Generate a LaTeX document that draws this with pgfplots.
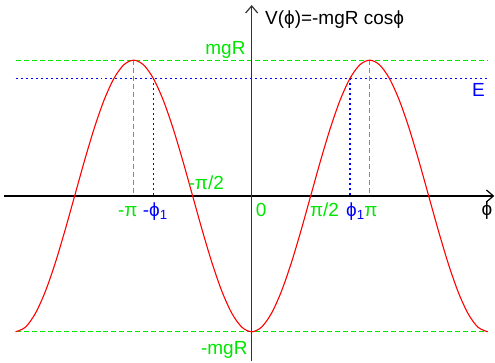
\documentclass[border=0pt]{standalone}
\usepackage{pgfplots}
\pgfplotsset{compat=1.18}
\usepackage{pgfplotstable}
\usepackage{fontspec}
\setmainfont{Liberation Sans}
\usetikzlibrary{arrows.meta}

\definecolor{lgreen}{RGB}{0,230,0}
\definecolor{lblue}{RGB}{0,0,255}
\definecolor{lred}{RGB}{255,0,0}

% V(phi) = -mgR cos(phi), in units of mgR, phi in radians
\pgfplotstableread{
phi      V
-6.2832 -1.0000
-6.0214 -0.9659
-5.7596 -0.8660
-5.4978 -0.7071
-5.2360 -0.5000
-4.9742 -0.2588
-4.7124  0.0000
-4.4506  0.2588
-4.1888  0.5000
-3.9270  0.7071
-3.6652  0.8660
-3.4034  0.9659
-3.1416  1.0000
-2.8798  0.9659
-2.6180  0.8660
-2.3562  0.7071
-2.0944  0.5000
-1.8326  0.2588
-1.5708  0.0000
-1.3090 -0.2588
-1.0472 -0.5000
-0.7854 -0.7071
-0.5236 -0.8660
-0.2618 -0.9659
 0.0000 -1.0000
 0.2618 -0.9659
 0.5236 -0.8660
 0.7854 -0.7071
 1.0472 -0.5000
 1.3090 -0.2588
 1.5708  0.0000
 1.8326  0.2588
 2.0944  0.5000
 2.3562  0.7071
 2.6180  0.8660
 2.8798  0.9659
 3.1416  1.0000
 3.4034  0.9659
 3.6652  0.8660
 3.9270  0.7071
 4.1888  0.5000
 4.4506  0.2588
 4.7124  0.0000
 4.9742 -0.2588
 5.2360 -0.5000
 5.4978 -0.7071
 5.7596 -0.8660
 6.0214 -0.9659
 6.2832 -1.0000
}\potential

\begin{document}
\begin{tikzpicture}[font=\fontsize{19bp}{22bp}\selectfont]
\begin{axis}[
  x=37.62bp, y=136bp,
  xmin=-6.699, xmax=6.459,
  ymin=-1.218, ymax=1.443,
  hide axis, clip=false,
  unbounded coords=jump,
]
  % page frame
  \path (axis cs:-6.699,-1.218) rectangle (axis cs:6.459,1.443);

  % green dashed levels mgR, -mgR and verticals at +-pi
  \addplot[draw=lgreen, line width=1.3bp, dash pattern=on 5bp off 3bp]
    coordinates {(-6.2832,1) (6.2832,1) (nan,nan)
                 (-6.2832,-1) (6.2832,-1) (nan,nan)
                 (-3.1416,1) (-3.1416,0) (nan,nan)
                 (3.1416,1) (3.1416,0)};

  % energy level E and turning points +-phi_1
  \addplot[draw=lblue, line width=1.1bp, dash pattern=on 2bp off 3bp]
    coordinates {(-6.2832,0.866) (6.2832,0.866) (nan,nan)
                 (-2.618,0.866) (-2.618,0) (nan,nan)
                 (2.618,0.866) (2.618,0)};

  % coordinate axes
  \draw[black, line width=1.2bp, -{Straight Barb[length=7bp,width=12bp,line width=1.2bp]}]
    (axis cs:-6.592,0) -- (axis cs:6.459,0);
  \draw[black!80, line width=1.3bp, -{Straight Barb[length=7bp,width=12bp,line width=1.2bp]}]
    (axis cs:0,-1.218) -- (axis cs:0,1.406);

  % potential curve
  \addplot[draw=lred, line width=1.1bp, smooth] table[x=phi, y=V] {\potential};

  % labels
  \node[anchor=base west] at (axis cs:0.266,1.259) {V(ϕ)=-mgR cosϕ};
  \node[anchor=base east, text=lgreen, inner sep=0pt] at (axis cs:-0.159,1.039) {mgR};
  \node[anchor=base east, text=lgreen, inner sep=0pt] at (axis cs:-0.106,-1.165) {-mgR};
  \node[anchor=base, text=lblue, inner sep=0pt] at (axis cs:6.034,0.729) {E};
  \node[anchor=base, text=lgreen, inner sep=0pt] at (axis cs:-1.209,0.046) {-π/2};
  \node[anchor=base, text=lgreen, inner sep=0pt] at (axis cs:-3.296,-0.152) {-π};
  \node[anchor=base, text=lblue, inner sep=0pt] at (axis cs:-2.565,-0.152) {-ϕ\textsubscript{1}};
  \node[anchor=base, text=lgreen, inner sep=0pt] at (axis cs:0.253,-0.152) {0};
  \node[anchor=base, text=lgreen, inner sep=0pt] at (axis cs:1.940,-0.152) {π/2};
  \node[anchor=base, text=lblue, inner sep=0pt] at (axis cs:2.764,-0.152) {ϕ\textsubscript{1}};
  \node[anchor=base, text=lgreen, inner sep=0pt] at (axis cs:3.176,-0.152) {π};
  \node[anchor=base, text=black, inner sep=0pt] at (axis cs:6.260,-0.145) {ϕ};
\end{axis}
\end{tikzpicture}
\end{document}
